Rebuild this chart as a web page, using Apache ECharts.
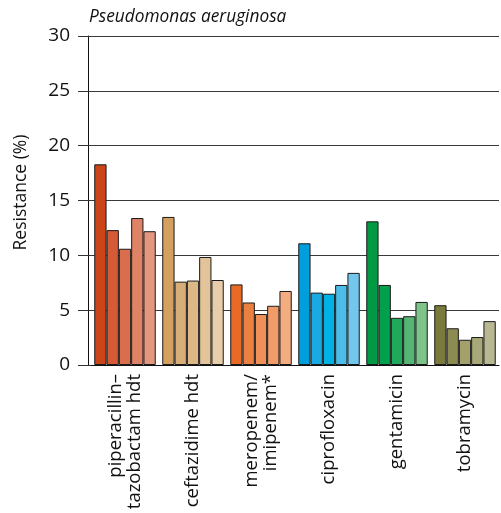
<!DOCTYPE html>
<html>
<head>
<meta charset="utf-8">
<script src="https://cdn.jsdelivr.net/npm/echarts@6/dist/echarts.min.js"></script>
<style>
html,body{margin:0;padding:0;background:#fff;}
#chart{width:501px;height:513px;}
</style>
</head>
<body>
<div id="chart"></div>
<script>
var title = 'Pseudomonas aeruginosa';
var categories = ['piperacillin–\ntazobactam hdt', 'ceftazidime hdt', 'meropenem/\nimipenem*', 'ciprofloxacin', 'gentamicin', 'tobramycin'];
var yTicks = [0, 5, 10, 15, 20, 25, 30];
// five bars per antibiotic (successive periods)
var period1 = [18.3, 13.5, 7.35, 11.1, 13.1, 5.45];
var period2 = [12.3, 7.6, 5.7, 6.6, 7.3, 3.35];
var period3 = [10.6, 7.7, 4.65, 6.5, 4.3, 2.3];
var period4 = [13.4, 9.85, 5.4, 7.3, 4.45, 2.55];
var period5 = [12.2, 7.75, 6.75, 8.4, 5.75, 4.0];
var periods = [period1, period2, period3, period4, period5];
var palette = [
  ['#CB4518', '#D65A36', '#DA6D4C', '#DF8366', '#E4977F'],
  ['#D4A060', '#D8AE78', '#DDB886', '#E2C39A', '#E8CDAA'],
  ['#E86A24', '#EC8040', '#EF9058', '#F19C68', '#F3AD80'],
  ['#009FDB', '#1AA9E1', '#00B2E3', '#4CBDE8', '#73C6EC'],
  ['#009A44', '#00A04C', '#20A85B', '#55B574', '#7DC38A'],
  ['#7A7A3C', '#8C8C52', '#A3A06C', '#A9A878', '#B8B892']
];

var font = 'Open Sans';
var series = periods.map(function (vals, p) {
  return {
    type: 'bar',
    yAxisIndex: 0,
    barGap: '0%',
    barCategoryGap: '9.6%',
    data: vals.map(function (v, c) {
      return { value: v, itemStyle: { color: palette[c][p] } };
    }),
    itemStyle: { borderColor: '#1a1a1a', borderWidth: 1 },
    animation: false
  };
});

var chart = echarts.init(document.getElementById('chart'), null, { renderer: 'canvas' });
chart.setOption({
  animation: false,
  backgroundColor: '#fff',
  title: {
    text: title,
    left: 89, top: 9, padding: 0,
    textStyle: { fontFamily: font, fontStyle: 'italic', fontWeight: 'normal', fontSize: 17.3, color: '#111' }
  },
  grid: { left: 91, right: 2, top: 36, bottom: 148, containLabel: false },
  xAxis: {
    type: 'category',
    data: categories,
    axisLine: { lineStyle: { color: '#111', width: 1 } },
    axisTick: { show: false },
    axisLabel: {
      rotate: 90, margin: 9, interval: 0,
      fontFamily: font, fontSize: 18.5, color: '#111', lineHeight: 19
    }
  },
  yAxis: [{
    type: 'value',
    min: yTicks[0], max: yTicks[yTicks.length - 1], interval: 5,
    offset: 3,
    name: 'Resistance (%)',
    nameLocation: 'middle', nameGap: 58, nameRotate: 90,
    nameTextStyle: { fontFamily: font, fontSize: 17.5, color: '#111', padding: [0, 0, 0, 16] },
    axisLine: { show: true, lineStyle: { color: '#111', width: 1 } },
    axisTick: { show: false },
    axisLabel: { margin: 18, fontFamily: font, fontSize: 19, color: '#111' },
    splitLine: { show: true, lineStyle: { color: '#3a3a3a', width: 1 } }
  }, {
    type: 'value',
    position: 'left',
    min: yTicks[0], max: yTicks[yTicks.length - 1], interval: 5,
    offset: 0,
    axisLine: { show: false },
    axisTick: { show: true, length: 13, lineStyle: { color: '#333', width: 1 } },
    axisLabel: { show: false },
    splitLine: { show: false }
  }],
  series: series
});
</script>
</body>
</html>
